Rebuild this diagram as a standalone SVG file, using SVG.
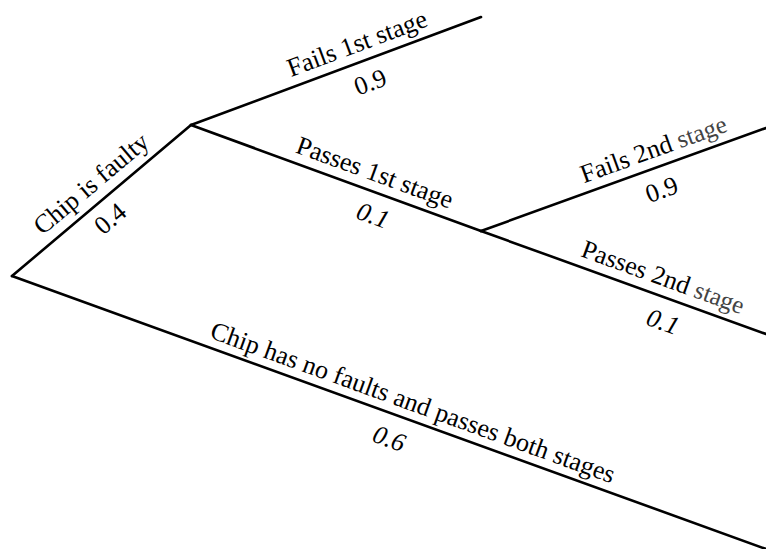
<svg xmlns="http://www.w3.org/2000/svg" width="766" height="549" viewBox="0 0 766 549">
  <style>
    .edge { stroke: #000; stroke-width: 2.6; fill: none; stroke-linecap: round; }
    text { font-family: "Liberation Serif", "Times New Roman", serif; font-size: 26px; fill: #000; text-anchor: middle; }
    .it { font-style: italic; }
    .faint { fill: #444; font-size: 25px; }
  </style>
  <rect width="766" height="549" fill="#fff"/>

  <!-- branches of the probability tree -->
  <g id="connectors">
    <line class="edge" x1="12" y1="276" x2="191" y2="125"/>
    <line class="edge" x1="191" y1="125" x2="481" y2="17"/>
    <line class="edge" x1="191" y1="125" x2="481" y2="231"/>
    <line class="edge" x1="481" y1="231" x2="766" y2="128"/>
    <line class="edge" x1="481" y1="231" x2="766" y2="334"/>
    <line class="edge" x1="12" y1="276" x2="766" y2="549"/>
  </g>

  <!-- labels are laid out in each branch's own rotated frame -->
  <g id="chip-faulty" transform="translate(12,276) rotate(-40.15)">
    <text x="120" y="-11">Chip is faulty</text>
    <text x="112" y="28">0.4</text>
  </g>

  <g id="fails-1st" transform="translate(191,125) rotate(-20.43)">
    <text x="184" y="-10">Fails 1st stage</text>
    <text x="183" y="31">0.9</text>
  </g>

  <g id="passes-1st" transform="translate(191,125) rotate(20.08)">
    <text x="189" y="-10">Passes 1st stage</text>
    <text class="it" x="202" y="31">0.1</text>
  </g>

  <g id="fails-2nd" transform="translate(481,231) rotate(-19.87)">
    <text x="190" y="-10">Fails 2nd <tspan class="faint">stage</tspan></text>
    <text x="184" y="31">0.9</text>
  </g>

  <g id="passes-2nd" transform="translate(481,231) rotate(19.87)">
    <text x="187" y="-10">Passes 2nd <tspan class="faint">stage</tspan></text>
    <text class="it" x="202" y="32">0.1</text>
  </g>

  <g id="no-faults" transform="translate(12,276) rotate(19.9)">
    <text x="420" y="-9">Chip has no faults and passes both stages</text>
    <text class="it" x="410" y="33">0.6</text>
  </g>
</svg>
